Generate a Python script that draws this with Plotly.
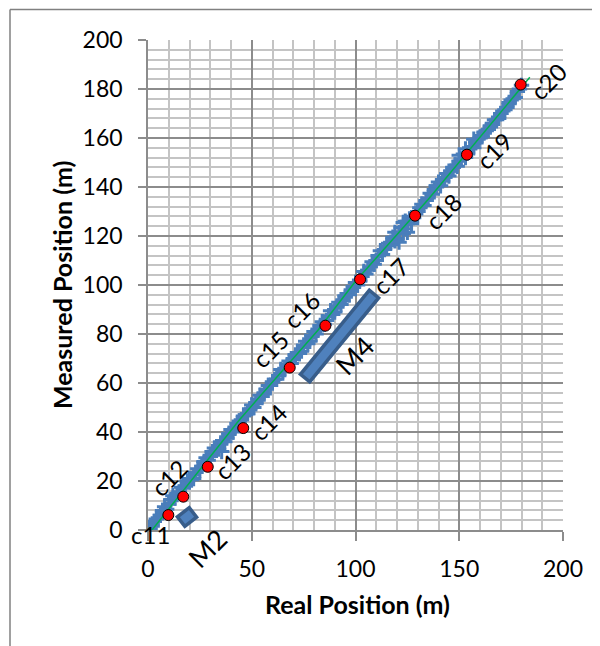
import math
import plotly.graph_objects as go

# ---------------- data ----------------
real_pos = [0, 2, 4, 6, 8, 10, 12, 14, 16, 18, 20, 22, 24, 26, 28, 30, 32, 34, 36, 38,
            40, 42, 44, 46, 48, 50, 52, 54, 56, 58, 60, 62, 64, 66, 68, 70, 72, 74, 76, 78,
            80, 82, 84, 86, 88, 90, 92, 94, 96, 98, 100, 102, 104, 106, 108, 110, 112, 114,
            116, 118, 120, 122, 124, 126, 128, 130, 132, 134, 136, 138, 140, 142, 144, 146,
            148, 150, 152, 154, 156, 158, 160, 162, 164, 166, 168, 170, 172, 174, 176, 178, 180,
            1, 3, 5, 7, 9, 11, 13, 15, 17, 19, 21, 23, 25, 27, 29, 31, 33, 35, 37, 39,
            41, 43, 45, 47, 49, 51, 53, 55, 57, 59, 61, 63, 65, 67, 69, 71, 73, 75, 77, 79,
            81, 83, 85, 87, 89, 91, 93, 95, 97, 99, 101, 103, 105, 107, 109, 111, 113, 115,
            117, 119, 121, 123, 125, 127, 129, 131, 133, 135, 137, 139, 141, 143, 145, 147,
            149, 151, 153, 155, 157, 159, 161, 163, 165, 167, 169, 171, 173, 175, 177, 179,
            35.5, 119, 121, 124, 125, 127, 123, 150, 153, 157, 139]
meas_pos = [0.5, 1.5, 4.5, 6.0, 9.5, 10.5, 14.0, 14.5, 17.5, 18.0, 21.0, 21.0, 25.0, 26.0,
            29.5, 30.0, 33.5, 33.0, 36.5, 37.5, 41.0, 41.5, 44.5, 46.5, 47.5, 51.0, 51.5, 55.0,
            55.5, 59.0, 60.5, 61.5, 65.5, 66.0, 69.0, 69.5, 72.5, 73.0, 77.0, 77.0, 81.0, 81.5,
            85.0, 85.5, 89.5, 89.0, 93.0, 93.5, 96.5, 97.5, 101.0, 101.5, 105.5, 106.0, 109.5,
            110.0, 114.0, 114.5, 117.0, 119.5, 119.0, 123.5, 123.0, 127.0, 127.5, 130.0, 133.0,
            134.5, 137.5, 139.0, 142.0, 142.5, 145.5, 146.5, 149.0, 150.5, 153.5, 154.0, 156.5,
            158.5, 160.0, 162.5, 163.5, 166.0, 167.5, 170.0, 171.5, 174.5, 176.0, 179.0, 181.5,
            0.5, 3.5, 5.0, 8.0, 8.5, 12.5, 13.0, 15.5, 17.0, 20.0, 20.5, 23.5, 24.5, 28.0,
            28.5, 32.0, 32.5, 35.5, 36.0, 39.5, 40.0, 43.5, 45.0, 47.0, 49.5, 50.0, 53.5, 54.5,
            57.5, 59.0, 61.5, 63.0, 65.0, 67.5, 68.0, 71.5, 72.0, 75.5, 76.0, 79.5, 80.0, 83.5,
            84.0, 87.5, 88.0, 91.5, 92.0, 95.5, 96.0, 99.5, 100.0, 103.5, 104.5, 107.5, 108.5,
            112.0, 112.5, 116.0, 117.5, 118.0, 121.5, 121.0, 125.5, 126.0, 129.0, 131.5, 132.5,
            135.5, 137.0, 140.5, 140.5, 144.0, 144.5, 148.0, 148.5, 151.5, 152.0, 155.5, 156.0,
            159.5, 160.5, 163.0, 164.5, 167.5, 168.0, 171.0, 172.5, 175.5, 176.5, 180.0,
            32.0, 121.5, 117.5, 126.0, 121.5, 125.0, 125.5, 153.0, 155.5, 159.5, 140.5]

ref_real = [1, 25, 44, 82, 100, 135, 184]
ref_meas = [-1, 24.5, 44.9, 81.6, 101.5, 134.9, 184.8]

check_names = ["c11", "c12", "c13", "c14", "c15", "c16", "c17", "c18", "c19", "c20"]
check_real = [9.8, 17.0, 28.8, 45.9, 68.3, 85.5, 102.2, 128.7, 153.7, 179.6]
check_meas = [6.1, 13.6, 25.8, 41.6, 66.3, 83.4, 102.3, 128.3, 153.2, 181.8]

# label anchor positions (data units) and rotation
label_x = [1.4, 10.1, 40.5, 58.3, 58.8, 74.2, 117.1, 142.2, 166.7, 192.8]
label_y = [-2.0, 21.6, 27.8, 44.1, 73.5, 89.8, 103.7, 129.8, 155.1, 182.9]
label_angle = [0, -45, -45, -45, -45, -45, -45, -45, -45, -45]

marker_names = ["M2", "M4"]
marker_label_x = [28.9, 99.3]
marker_label_y = [-7.3, 71.4]

x_ticks = [0, 50, 100, 150, 200]
y_ticks = [0, 20, 40, 60, 80, 100, 120, 140, 160, 180, 200]

# ---------------- layout geometry ----------------
# page body has an 8px default margin, so the figure is drawn 8px in from the window
PAGE_OFF = 8
WIN_W, WIN_H = 600, 646
W, H = WIN_W - PAGE_OFF, WIN_H - PAGE_OFF
REF_L, REF_T, REF_R, REF_B = 148, 40, 563, 530   # plot area in window pixels
L, T = REF_L - PAGE_OFF, REF_T - PAGE_OFF
R = WIN_W - REF_R
B = WIN_H - REF_B
PW, PH = W - L - R, H - T - B
XR, YR = (0, 200), (0, 200)
sx = PW / (XR[1] - XR[0])
sy = PH / (YR[1] - YR[0])


def px_to_paper(px, py):
    return (px - REF_L) / PW, (REF_B - py) / PH


def rect_path(cx, cy, length_px, width_px, angle_deg):
    """rotated rectangle centred on data point, sizes in pixels"""
    a = math.radians(angle_deg)
    ux, uy = math.cos(a), math.sin(a)
    vx, vy = -uy, ux
    pts = []
    for s, t in [(-1, -1), (1, -1), (1, 1), (-1, 1)]:
        dxp = s * length_px / 2 * ux + t * width_px / 2 * vx
        dyp = s * length_px / 2 * uy + t * width_px / 2 * vy
        pts.append((cx + dxp / sx, cy + dyp / sy))
    return "M " + " L ".join(f"{px:.3f},{py:.3f}" for px, py in pts) + " Z"


def ypaper(v):
    return (v - YR[0]) / (YR[1] - YR[0])


FONT = "Lato, 'Open Sans', sans-serif"
BLUE = "#4A7EBB"
FILL = "#4F81BD"
EDGE = "#385D8A"
MAJ = "#8C8C8C"
MIN = "#C4C4C4"

fig = go.Figure()

fig.add_trace(go.Scatter(
    x=real_pos, y=meas_pos, mode="markers",
    marker=dict(symbol="cross-thin", size=11, color=BLUE,
                line=dict(color=BLUE, width=3)),
    showlegend=False, hoverinfo="skip"))

fig.add_trace(go.Scatter(
    x=ref_real, y=ref_meas, mode="lines",
    line=dict(color="#00B050", width=1.5),
    showlegend=False, hoverinfo="skip"))

fig.add_trace(go.Scatter(
    x=check_real, y=check_meas, mode="markers",
    marker=dict(symbol="circle", size=11, color="#FF0000",
                line=dict(color="black", width=1)),
    showlegend=False, hoverinfo="skip"))

# M2 / M4 rotated blocks (callout shapes)
m4_c = ((75.7 + 108.9) / 2, (62.0 + 96.3) / 2)
m4_len = math.hypot((108.9 - 75.7) * sx, (96.3 - 62.0) * sy)
m4_ang = math.degrees(math.atan2((96.3 - 62.0) * sy, (108.9 - 75.7) * sx))
fig.add_shape(type="path", path=rect_path(m4_c[0], m4_c[1], m4_len, 12, m4_ang),
              xref="x", yref="y", fillcolor=FILL, line=dict(color=EDGE, width=3.5),
              layer="above")
fig.add_shape(type="path", path=rect_path(18.8, 5.3, 15, 12, 38),
              xref="x", yref="y", fillcolor=FILL, line=dict(color=EDGE, width=3.5),
              layer="above")

for name, lx, ly, ang in zip(check_names, label_x, label_y, label_angle):
    fig.add_annotation(x=lx, y=ypaper(ly), xref="x", yref="paper", text=name,
                       showarrow=False, textangle=ang,
                       font=dict(family=FONT, size=24, color="black"),
                       xanchor="center", yanchor="middle")
for name, lx, ly in zip(marker_names, marker_label_x, marker_label_y):
    fig.add_annotation(x=lx, y=ypaper(ly), xref="x", yref="paper", text=name,
                       showarrow=False, textangle=-45,
                       font=dict(family=FONT, size=27, color="black"),
                       xanchor="center", yanchor="middle")

# axis titles
tx, ty = px_to_paper(357, 604)
fig.add_annotation(x=tx, y=ty, xref="paper", yref="paper",
                   text="<b>Real Position (m)</b>", showarrow=False,
                   xanchor="center", yanchor="middle",
                   font=dict(family=FONT, size=25, color="black"))
tx, ty = px_to_paper(62, 285)
fig.add_annotation(x=tx, y=ty, xref="paper", yref="paper",
                   text="<b>Measured Position (m)</b>", showarrow=False, textangle=-90,
                   xanchor="center", yanchor="middle",
                   font=dict(family=FONT, size=25, color="black"))

# chart frame (left and top edges visible)
fx0, fy1 = px_to_paper(10, 9.5)
_, fyb = px_to_paper(10, WIN_H + 5)
fxr, _ = px_to_paper(WIN_W + 5, 9.5)
fig.add_shape(type="line", xref="paper", yref="paper", x0=fx0, x1=fx0, y0=fy1, y1=fyb,
              line=dict(color="#808080", width=1.5))
fig.add_shape(type="line", xref="paper", yref="paper", x0=fx0, x1=fxr, y0=fy1, y1=fy1,
              line=dict(color="#808080", width=1.5))

fig.update_layout(
    width=W, height=H, margin=dict(l=L, r=R, t=T, b=B, autoexpand=False),
    paper_bgcolor="white", plot_bgcolor="white",
    font=dict(family=FONT, size=23, color="black"),
    showlegend=False,
)
fig.update_xaxes(
    range=list(XR), tickvals=x_ticks, ticktext=[str(v) for v in x_ticks],
    showgrid=True, gridcolor=MAJ, gridwidth=1.5,
    minor=dict(dtick=10, showgrid=True, gridcolor=MIN, gridwidth=1.5, ticks=""),
    showline=True, linecolor=MAJ, linewidth=1.5,
    ticks="outside", ticklen=9, tickcolor=MAJ, tickwidth=1.5,
    ticklabelstandoff=9, zeroline=False, automargin=False,
    tickfont=dict(family=FONT, size=23, color="black"),
)
fig.update_yaxes(
    range=list(YR), tickvals=y_ticks, ticktext=[str(v) for v in y_ticks],
    showgrid=True, gridcolor=MAJ, gridwidth=1.5,
    minor=dict(dtick=4, showgrid=True, gridcolor=MIN, gridwidth=1.5, ticks=""),
    showline=True, linecolor=MAJ, linewidth=1.5,
    ticks="outside", ticklen=8, tickcolor=MAJ, tickwidth=1.5,
    ticklabelstandoff=11, zeroline=False, automargin=False,
    tickfont=dict(family=FONT, size=23, color="black"),
)

fig.write_html("out.html")
